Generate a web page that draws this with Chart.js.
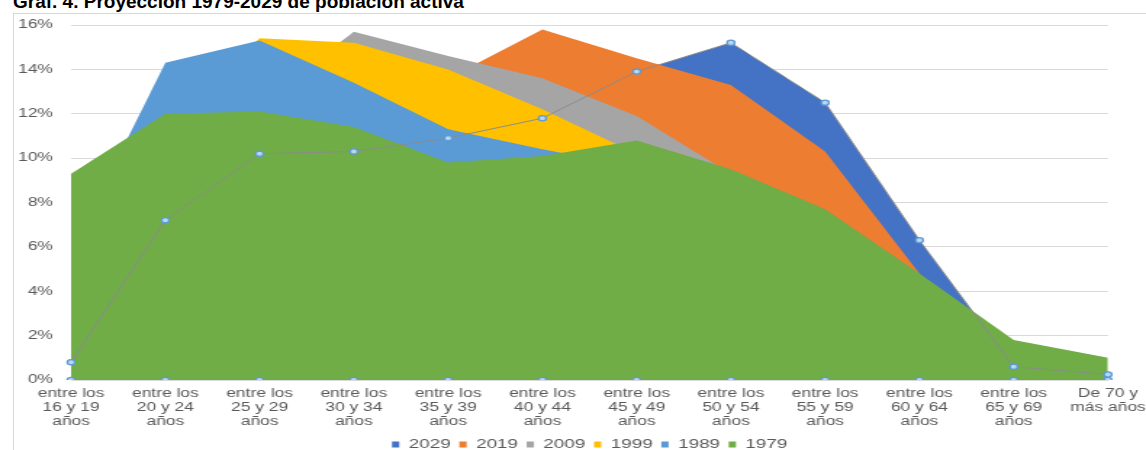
<!DOCTYPE html>
<html lang="es">
<head>
<meta charset="utf-8">
<title>Graf. 4. Proyección 1979-2029 de población activa</title>
<script src="https://cdn.jsdelivr.net/npm/chart.js@4.4.1/dist/chart.umd.min.js"></script>
<style>
  html, body { margin: 0; padding: 0; background: #ffffff; }
  body { width: 1146px; height: 450px; overflow: hidden; position: relative; }
  #frame {
    position: absolute; left: 13px; top: 13px; width: 1140px; height: 445px;
    border-left: 1px solid #d9d9d9; border-top: 1px solid #d9d9d9;
  }
  #title {
    position: absolute; left: 13px; top: -8px; margin: 0;
    font: bold 19px/19px "Liberation Sans", Arial, sans-serif; color: #000;
    white-space: nowrap;
  }
  /* the plot is drawn on a narrower canvas and widened horizontally */
  #wrap {
    position: absolute; left: 0; top: 0; width: 813px; height: 461px;
    transform: scaleX(1.4506); transform-origin: 0 0;
  }
  #chart { display: block; }
</style>
</head>
<body>
<div id="frame"></div>
<div id="title">Graf. 4. Proyección 1979-2029 de población activa</div>
<div id="wrap"><canvas id="chart" width="813" height="461" style="width:813px;height:461px"></canvas></div>
<script>
// Age groups of the active population
const ageGroups = [
  ["entre los", "16 y 19", "años"],
  ["entre los", "20 y 24", "años"],
  ["entre los", "25 y 29", "años"],
  ["entre los", "30 y 34", "años"],
  ["entre los", "35 y 39", "años"],
  ["entre los", "40 y 44", "años"],
  ["entre los", "45 y 49", "años"],
  ["entre los", "50 y 54", "años"],
  ["entre los", "55 y 59", "años"],
  ["entre los", "60 y 64", "años"],
  ["entre los", "65 y 69", "años"],
  ["De 70 y", "más años"]
];

// Share of the active population in each age group (%)
const share2029 = [0.8, 7.2, 10.2, 10.3, 10.9, 11.8, 13.9, 15.2, 12.5, 6.3, 0.6, 0.25];
const share2019 = [1.2, 5.0, 8.8, 11.2, 13.6, 15.8, 14.5, 13.3, 10.3, 4.8, 1.2, 0.4];
const share2009 = [2.0, 8.0, 12.5, 15.7, 14.6, 13.6, 11.9, 9.3, 6.8, 3.8, 1.0, 0.3];
const share1999 = [4.0, 11.5, 15.4, 15.2, 14.0, 12.2, 10.2, 8.0, 5.5, 2.8, 0.9, 0.3];
const share1989 = [5.8, 14.3, 15.3, 13.4, 11.3, 10.4, 9.6, 8.0, 6.5, 4.0, 1.2, 0.3];
const share1979 = [9.3, 12.0, 12.1, 11.4, 9.8, 10.1, 10.8, 9.5, 7.7, 4.8, 1.8, 1.0];

// Baseline handles of the highlighted 2029 series
const baseHandles = [0, 0, 0, 0, 0, 0, 0, 0, 0, 0, 0, 0];

// Y axis ticks (%)
const yMin = 0;
const yMax = 16;
const yStep = 2;

const years = ["2029", "2019", "2009", "1999", "1989", "1979"];
const yearShares = [share2029, share2019, share2009, share1999, share1989, share1979];
const yearColors = ["#4472c4", "#ed7d31", "#a5a5a5", "#ffc000", "#5b9bd5", "#70ad47"];

const FONT = "'Liberation Sans', Arial, sans-serif";
const TEXT = "#595959";

// Areas overlap; the oldest year sits in front
const areaSets = years.map((y, i) => ({
  label: y,
  data: yearShares[i],
  backgroundColor: yearColors[i],
  borderColor: yearColors[i],
  borderWidth: 0,
  pointRadius: 0,
  fill: "origin",
  tension: 0,
  order: years.length - i
}));

const handleStyle = {
  pointRadius: 2.6,
  pointBackgroundColor: "#bdd7ee",
  pointBorderColor: "#5b9bd5",
  pointBorderWidth: 1.3,
  fill: false
};

const datasets = areaSets.concat([
  Object.assign({
    label: "2029 outline",
    data: share2029,
    borderColor: "#8c8c8c",
    borderWidth: 1,
    tension: 0,
    order: 0
  }, handleStyle),
  Object.assign({
    label: "2029 base",
    data: baseHandles,
    showLine: false,
    borderColor: "#5b9bd5",
    order: -1
  }, handleStyle)
]);

new Chart(document.getElementById("chart"), {
  type: "line",
  data: { labels: ageGroups, datasets: datasets },
  options: {
    responsive: false,
    animation: false,
    events: [],
    layout: { padding: { left: 0, right: 0, top: 25, bottom: 0 } },
    plugins: {
      tooltip: { enabled: false },
      title: { display: false },
      legend: {
        position: "bottom",
        labels: {
          color: TEXT,
          font: { family: FONT, size: 13 },
          boxWidth: 5,
          boxHeight: 6,
          padding: 6,
          filter: (item) => item.datasetIndex < years.length,
          sort: (a, b) => a.datasetIndex - b.datasetIndex
        }
      }
    },
    scales: {
      x: {
        type: "category",
        offset: false,
        grid: { display: false, drawTicks: false },
        border: { display: true, color: "#d9d9d9" },
        ticks: {
          color: TEXT,
          font: { family: FONT, size: 12, lineHeight: 14 / 12 },
          padding: 6.5,
          autoSkip: false,
          maxRotation: 0,
          minRotation: 0
        },
        afterFit: (axis) => {
          axis.height = 52;
          axis.paddingLeft = 0;
          axis.paddingRight = 0;
        }
      },
      y: {
        min: yMin,
        max: yMax,
        grid: { color: "#d9d9d9", lineWidth: 1, drawTicks: false },
        border: { display: false },
        ticks: {
          stepSize: yStep,
          color: TEXT,
          font: { family: FONT, size: 12 },
          padding: 12.5,
          callback: (v) => v + "%"
        },
        afterFit: (axis) => { axis.width = 49; }
      },
      // empty right-hand margin beside the plot
      yRight: {
        position: "right",
        min: yMin,
        max: yMax,
        grid: { display: false, drawTicks: false },
        border: { display: false },
        ticks: { display: false },
        afterFit: (axis) => { axis.width = 49.2; }
      }
    }
  }
});
</script>
</body>
</html>
